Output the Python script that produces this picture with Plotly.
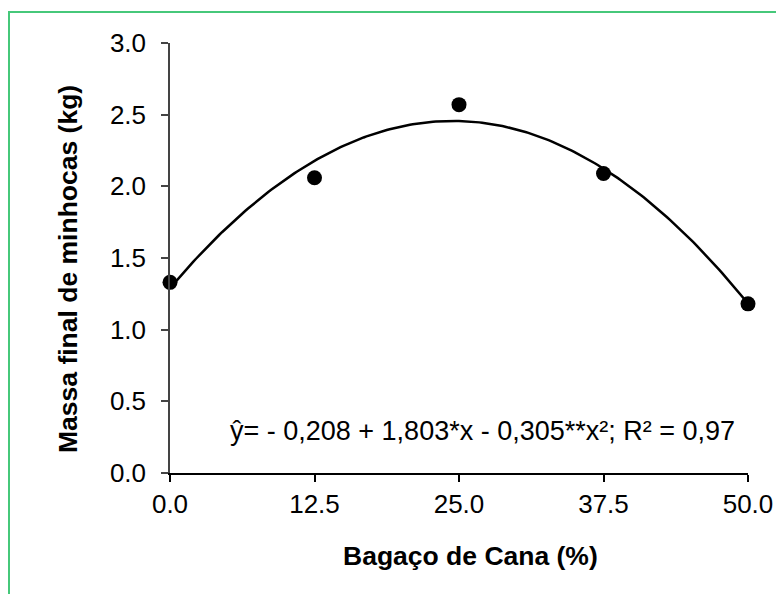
import numpy as np
import plotly.graph_objects as go

# Data
bagaco_pct = [0.0, 12.5, 25.0, 37.5, 50.0]
massa_kg = [1.33, 2.06, 2.57, 2.09, 1.18]
x_ticks = [0.0, 12.5, 25.0, 37.5, 50.0]
x_ticklabels = ["0.0", "12.5", "25.0", "37.5", "50.0"]
y_ticks = [0.0, 0.5, 1.0, 1.5, 2.0, 2.5, 3.0]
y_ticklabels = ["0.0", "0.5", "1.0", "1.5", "2.0", "2.5", "3.0"]
# Regression coefficients (from the equation shown): y = b0 + b1*X + b2*X^2, X = level index 1..5
b0, b1, b2 = -0.208, 1.803, -0.305
equation_text = "ŷ= - 0,208 + 1,803*x - 0,305**x²; R² = 0,97"

xfit = np.linspace(0, 50, 201)
Xlev = xfit / 12.5 + 1
yfit = b0 + b1 * Xlev + b2 * Xlev ** 2

FONT = "Liberation Sans, Arial, sans-serif"

# page offset of 8px (body margin) is compensated by the margins below
L, T, PW, PH = 162, 35, 578, 430

fig = go.Figure()
fig.add_trace(go.Scatter(x=xfit, y=yfit, mode="lines",
                         line=dict(color="black", width=2.5),
                         cliponaxis=False, hoverinfo="skip"))
fig.add_trace(go.Scatter(x=bagaco_pct, y=massa_kg, mode="markers",
                         marker=dict(color="black", size=15),
                         cliponaxis=False))

def px(xp):
    return (xp - 8 - L) / PW

def py(yp):
    return (T + PH - (yp - 8)) / PH

fig.update_layout(
    width=776, height=586,
    margin=dict(l=L, r=776 - L - PW, t=T, b=586 - T - PH),
    paper_bgcolor="white", plot_bgcolor="white",
    showlegend=False,
    font=dict(family=FONT, size=26, color="black"),
    xaxis=dict(range=[0, 50], tickvals=x_ticks, ticktext=x_ticklabels,
               showgrid=False, zeroline=False, showline=True,
               linecolor="black", linewidth=1.5, ticks="outside",
               ticklen=7, tickcolor="black", tickwidth=1.5,
               tickfont=dict(family=FONT, size=26, color="black")),
    yaxis=dict(range=[0, 3], tickvals=y_ticks, ticktext=y_ticklabels,
               showgrid=False, zeroline=False, showline=True,
               linecolor="#444444", linewidth=1.5, ticks="outside",
               ticklen=7, tickcolor="#444444", tickwidth=1.5,
               ticklabelstandoff=10,
               tickfont=dict(family=FONT, size=26, color="black")),
    shapes=[dict(type="rect", xref="paper", yref="paper",
                 x0=px(9), x1=1.3, y0=-0.5, y1=py(12),
                 line=dict(color="#46C87A", width=2), fillcolor="rgba(0,0,0,0)",
                 layer="below")],
    annotations=[
        dict(text=equation_text, xref="paper", yref="paper",
             x=px(482), y=py(431), showarrow=False,
             xanchor="center", yanchor="middle",
             font=dict(family=FONT, size=27, color="black")),
        dict(text="<b>Bagaço de Cana (%)</b>", xref="paper", yref="paper",
             x=px(470), y=py(556), showarrow=False,
             xanchor="center", yanchor="middle",
             font=dict(family=FONT, size=26.5, color="black")),
        dict(text="<b>Massa final de minhocas (kg)</b>", xref="paper", yref="paper",
             x=px(68), y=py(269), showarrow=False,
             xanchor="center", yanchor="middle", textangle=-90,
             font=dict(family=FONT, size=26.5, color="black")),
    ],
)

fig.write_html("out.html")
